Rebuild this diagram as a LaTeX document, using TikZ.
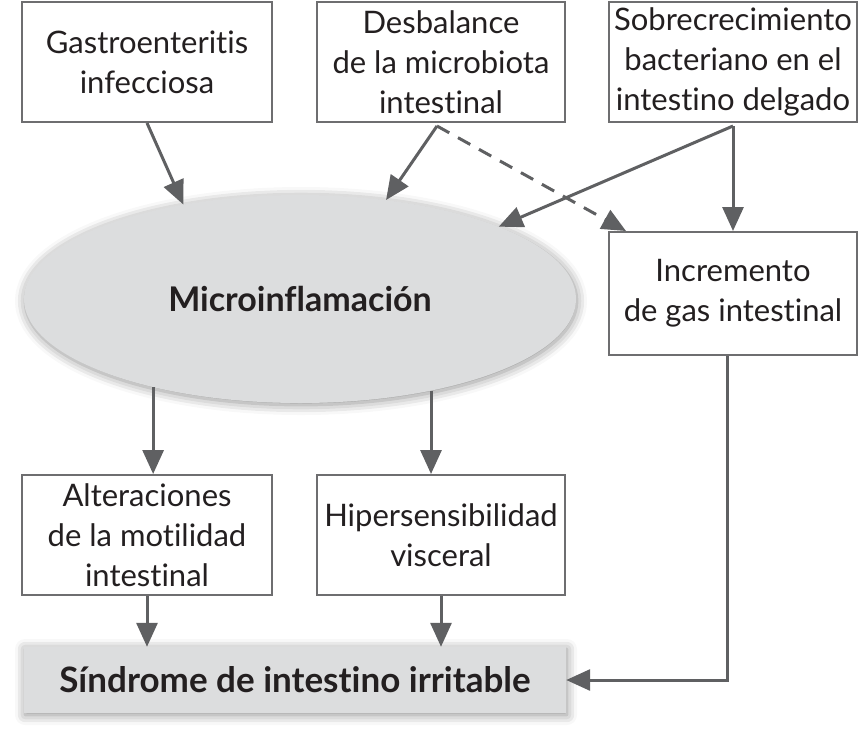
\documentclass[tikz,border=0pt]{standalone}
\usepackage{fontspec}
\setmainfont{Lato}[Ligatures=NoCommon]
\usetikzlibrary{arrows.meta,shapes.geometric,shadows.blur}
\definecolor{linec}{HTML}{5F6062}
\definecolor{boxc}{HTML}{6E6E70}
\definecolor{fillc}{HTML}{DCDDDE}
\definecolor{txtc}{HTML}{231F20}
\begin{document}
\begin{tikzpicture}[x=1pt,y=-1pt,
  box/.style={draw=boxc, line width=2pt, fill=white, align=center, text=txtc,
    font=\fontsize{31}{40}\selectfont, minimum width=248pt, minimum height=120pt, inner sep=0pt},
  arr/.style={draw=linec, line width=3pt, -{Triangle[length=24pt,width=21pt]}},
  dasharr/.style={arr, dash pattern=on 14pt off 10pt},
  shad/.style={blur shadow={shadow xshift=1pt, shadow yshift=-2pt, shadow blur radius=10pt, shadow opacity=45}}]
\useasboundingbox (0,0) rectangle (859,736);
% top row
\node[box, minimum width=250pt] (g) at (147,62) {Gastroenteritis\\infecciosa};
\node[box] (d) at (441,62) {Desbalance\\de la microbiota\\intestinal};
\node[box] (s) at (733,62) {Sobrecrecimiento\\bacteriano en el\\intestino delgado};
% ellipse
\node[ellipse, fill=fillc, shad, minimum width=552pt, minimum height=208pt, inner sep=0pt,
  text=txtc, font=\fontsize{34}{40}\selectfont\bfseries] (m) at (300,299) {Microinflamación};
\node[box, minimum height=123pt] (i) at (733,293.5) {Incremento\\de gas intestinal};
% middle row
\node[box, minimum width=250pt] (a) at (147,535) {Alteraciones\\de la motilidad\\intestinal};
\node[box] (h) at (441,535) {Hipersensibilidad\\visceral};
% bottom
\node[fill=fillc, shad, minimum width=542pt, minimum height=66pt, inner sep=0pt,
  text=txtc, font=\fontsize{35}{40}\selectfont\bfseries] (sd) at (295,680) {Síndrome de intestino irritable};
% junctions
\coordinate (dj) at ([xshift=-4pt,yshift=-3pt]d.south);
\coordinate (sj) at ([yshift=-3pt]s.south);
% connectors
\draw[arr] (g.south) -- (m.141);
\draw[arr] (dj) -- (m.49);
\draw[dasharr] (dj) -- ([xshift=18pt]i.north west);
\draw[arr] (sj) -- (m.20.4);
\draw[arr] (sj) -- (i.north);
\draw[arr] (m.211.5) -- (m.211.5 |- a.north);
\draw[arr] (m.325.4) -- (m.325.4 |- h.north);
\draw[arr] (a.south) -- (sd.north -| a.south);
\draw[arr] (h.south) -- (sd.north -| h.south);
\draw[arr] ([xshift=-6pt]i.south) |- (sd.east);
\end{tikzpicture}
\end{document}
